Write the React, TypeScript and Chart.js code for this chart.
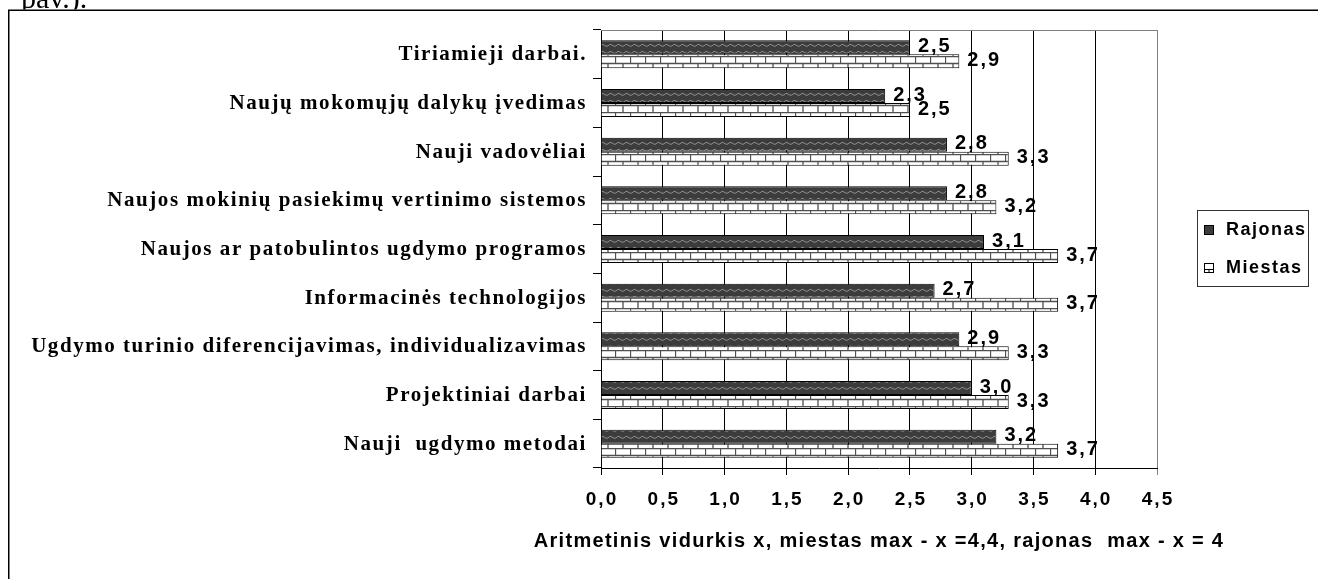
import React, { useEffect, useRef } from "react";
import { Chart, registerables } from "chart.js";

Chart.register(...registerables);

const W = 1318;
const H = 579;

const categories = [
  "Tiriamieji darbai.",
  "Naujų mokomųjų dalykų įvedimas",
  "Nauji vadovėliai",
  "Naujos mokinių pasiekimų vertinimo sistemos",
  "Naujos ar patobulintos ugdymo programos",
  "Informacinės technologijos",
  "Ugdymo turinio diferencijavimas, individualizavimas",
  "Projektiniai darbai",
  "Nauji  ugdymo metodai",
];
const rajonas = [2.5, 2.3, 2.8, 2.8, 3.1, 2.7, 2.9, 3.0, 3.2];
const miestas = [2.9, 2.5, 3.3, 3.2, 3.7, 3.7, 3.3, 3.3, 3.7];
const seriesNames = ["Rajonas", "Miestas"];
const xMin = 0;
const xMax = 4.5;
const xStep = 0.5;
const axisTitle = "Aritmetinis vidurkis x, miestas max - x =4,4, rajonas  max - x = 4";
const captionText = "pav.).";

const SANS = '"Liberation Sans", Arial, sans-serif';
const SERIF = '"Liberation Serif", "Times New Roman", serif';

function fmt(v: number): string {
  return v.toFixed(1).replace(".", ",");
}

function makeWave(ctx: CanvasRenderingContext2D): CanvasPattern {
  const c = document.createElement("canvas");
  c.width = 8;
  c.height = 7;
  const g = c.getContext("2d")!;
  g.fillStyle = "#3c3c3c";
  g.fillRect(0, 0, 8, 7);
  g.strokeStyle = "#8e8e8e";
  g.lineWidth = 1;
  g.beginPath();
  g.moveTo(0, 4);
  g.quadraticCurveTo(2, 1, 4, 3);
  g.quadraticCurveTo(6, 5, 8, 4);
  g.stroke();
  return ctx.createPattern(c, "repeat")!;
}

function makeBrick(ctx: CanvasRenderingContext2D): CanvasPattern {
  const c = document.createElement("canvas");
  c.width = 15;
  c.height = 14;
  const g = c.getContext("2d")!;
  g.fillStyle = "#ffffff";
  g.fillRect(0, 0, 15, 14);
  g.strokeStyle = "#505050";
  g.lineWidth = 1.3;
  g.beginPath();
  g.moveTo(0, 0.5);
  g.lineTo(15, 0.5);
  g.moveTo(0, 7.5);
  g.lineTo(15, 7.5);
  g.moveTo(0.5, 0);
  g.lineTo(0.5, 7);
  g.moveTo(8, 7);
  g.lineTo(8, 14);
  g.stroke();
  return ctx.createPattern(c, "repeat")!;
}

export default function App() {
  const ref = useRef<HTMLCanvasElement>(null);

  useEffect(() => {
    const canvas = ref.current!;
    const ctx0 = canvas.getContext("2d")!;
    const wave = makeWave(ctx0);
    const brick = makeBrick(ctx0);

    const bgPlugin = {
      id: "bgFrame",
      beforeDraw(chart: any) {
        const c = chart.ctx as CanvasRenderingContext2D;
        c.save();
        c.fillStyle = "#ffffff";
        c.fillRect(0, 0, W, H);
        c.strokeStyle = "#000";
        c.lineWidth = 1.5;
        c.beginPath();
        c.moveTo(8.75, H + 5);
        c.lineTo(8.75, 10.25);
        c.lineTo(W + 5, 10.25);
        c.stroke();
        c.save();
        c.beginPath();
        c.rect(0, 0, W, 9.5);
        c.clip();
        c.font = `30px ${SERIF}`;
        c.fillStyle = "#000";
        c.textBaseline = "alphabetic";
        c.textAlign = "left";
        c.fillText(captionText, 21, 8);
        c.restore();
        c.restore();
      },
    };

    const decoPlugin = {
      id: "deco",
      afterDatasetsDraw(chart: any) {
        const c = chart.ctx as CanvasRenderingContext2D;
        c.save();
        (c as any).letterSpacing = "2px";
        c.font = `bold 20px ${SANS}`;
        c.fillStyle = "#000";
        c.textAlign = "left";
        c.textBaseline = "middle";
        chart.data.datasets.forEach((ds: any, di: number) => {
          const meta = chart.getDatasetMeta(di);
          meta.data.forEach((el: any, i: number) => {
            c.fillText(fmt(ds.data[i]), el.x + 8, el.y - 1);
          });
        });
        c.restore();
      },
      afterDraw(chart: any) {
        const c = chart.ctx as CanvasRenderingContext2D;
        const area = chart.chartArea;
        const ys = chart.scales.y;
        const xs = chart.scales.x;
        c.save();
        // plot top border
        c.strokeStyle = "#808080";
        c.lineWidth = 1;
        c.beginPath();
        c.moveTo(area.left, area.top + 0.5);
        c.lineTo(area.right + 0.5, area.top + 0.5);
        c.stroke();

        // x tick labels
        (c as any).letterSpacing = "2px";
        c.font = `bold 19px ${SANS}`;
        c.fillStyle = "#000";
        c.textAlign = "center";
        c.textBaseline = "middle";
        xs.ticks.forEach((t: any) => {
          c.fillText(fmt(t.value), xs.getPixelForValue(t.value) + 1, 500);
        });

        // category labels
        (c as any).letterSpacing = "1.55px";
        c.font = `bold 21px ${SERIF}`;
        c.textAlign = "right";
        c.textBaseline = "alphabetic";
        categories.forEach((lab, i) => {
          c.fillText(lab, area.left - 14, ys.getPixelForValue(i) + 6);
        });

        // axis title
        (c as any).letterSpacing = "1.3px";
        c.font = `bold 20px ${SANS}`;
        c.textAlign = "center";
        c.textBaseline = "middle";
        c.fillText(axisTitle, (area.left + area.right) / 2, 541);

        // legend
        (c as any).letterSpacing = "1.5px";
        c.strokeStyle = "#333";
        c.lineWidth = 1;
        c.strokeRect(1197.5, 210.5, 111, 76);
        const items = [
          { name: seriesNames[0], y: 230, dark: true },
          { name: seriesNames[1], y: 268, dark: false },
        ];
        items.forEach((it) => {
          const sx = 1204;
          const sy = it.y - 5;
          c.fillStyle = it.dark ? "#3c3c3c" : "#ffffff";
          c.fillRect(sx, sy, 9, 9);
          c.strokeStyle = "#000";
          c.strokeRect(sx + 0.5, sy + 0.5, 9, 9);
          if (!it.dark) {
            c.beginPath();
            c.moveTo(sx, sy + 6.5);
            c.lineTo(sx + 9, sy + 6.5);
            c.moveTo(sx + 5, sy + 6.5);
            c.lineTo(sx + 5, sy + 9);
            c.stroke();
          }
          c.fillStyle = "#000";
          c.font = `bold 18px ${SANS}`;
          c.textAlign = "left";
          c.textBaseline = "middle";
          c.fillText(it.name, 1226, it.y);
        });
        c.restore();
      },
    };

    const chart = new Chart(canvas, {
      type: "bar",
      data: {
        labels: categories,
        datasets: [
          {
            label: seriesNames[0],
            data: rajonas,
            backgroundColor: wave as any,
            borderColor: "#000",
            borderWidth: 1,
            categoryPercentage: 0.575,
            barPercentage: 1,
          },
          {
            label: seriesNames[1],
            data: miestas,
            backgroundColor: brick as any,
            borderColor: "#000",
            borderWidth: 1,
            categoryPercentage: 0.575,
            barPercentage: 1,
          },
        ],
      },
      options: {
        indexAxis: "y",
        responsive: false,
        animation: false,
        devicePixelRatio: 1,
        layout: { padding: { top: 30, right: 161, left: 0, bottom: 0 } },
        plugins: { legend: { display: false }, tooltip: { enabled: false } },
        scales: {
          x: {
            type: "linear",
            min: xMin,
            max: xMax,
            ticks: {
              stepSize: xStep,
              display: false,
            },
            grid: {
              color: (c: any) => (c.tick && c.tick.value === xMax ? "#808080" : "#000"),
              lineWidth: 1,
              tickLength: 7,
            },
            border: { display: true, color: "#000", width: 1 },
            title: { display: false },
            afterFit: (s: any) => {
              s.height = H - 468;
            },
          },
          y: {
            type: "category",
            ticks: { display: false },
            grid: { drawOnChartArea: false, color: "#000", tickLength: 8, offset: true },
            border: { display: true, color: "#000", width: 1 },
            afterFit: (s: any) => {
              s.width = 601;
            },
          },
        },
      } as any,
      plugins: [bgPlugin, decoPlugin],
    });

    return () => {
      chart.destroy();
    };
  }, []);

  return (
    <div style={{ position: "fixed", left: 0, top: 0, width: W, height: H }}>
      <canvas ref={ref} width={W} height={H} style={{ display: "block", width: W, height: H }} />
    </div>
  );
}
